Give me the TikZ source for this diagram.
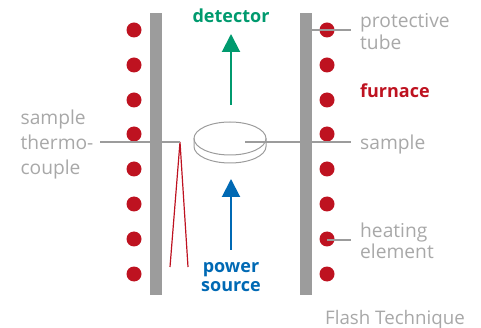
\documentclass[tikz,border=0pt]{standalone}
\usepackage{fontspec}
\setmainfont{Open Sans}
\usetikzlibrary{arrows.meta}
\definecolor{tubegray}{HTML}{9C9C9C}
\definecolor{labelgray}{HTML}{A8A8A8}
\definecolor{furnacered}{HTML}{BE1220}
\definecolor{detgreen}{HTML}{009A6E}
\definecolor{powerblue}{HTML}{0069B4}
\tikzset{
  lbl/.style={text=labelgray,font=\fontsize{19.2}{21.5}\selectfont,align=left,inner sep=0pt},
  boldlbl/.style={font=\fontsize{18}{19.5}\selectfont\bfseries,align=center,inner sep=0pt},
  pointer/.style={draw=tubegray,line width=2pt},
  dot/.style={circle,fill=furnacered,minimum size=15pt,inner sep=0pt},
  flow/.style={line width=2pt,-{Triangle[length=18pt,width=18pt]}}
}
\begin{document}
\begin{tikzpicture}[x=1pt,y=-1pt]
  \useasboundingbox (0,0) rectangle (481,328);

  % tube walls
  \fill [tubegray] (150,13) rectangle (162,295);
  \fill [tubegray] (300,13) rectangle (312,295);

  % heating coil
  \foreach \i/\y in {1/30,2/65,3/100,4/134,5/169,6/204,7/239,8/274}{
    \node [dot] (l\i) at (134,\y) {};
    \node [dot] (r\i) at (327,\y) {};
  }

  % sample disc
  \draw [tubegray,line width=1pt] (194,138.5) -- (194,146.5) arc [start angle=180,end angle=0,x radius=36,y radius=16.5] -- (266,138.5);
  \draw [tubegray,line width=1pt] (230,138.5) ellipse [x radius=36,y radius=16.5];

  % thermocouple
  \coordinate (tip) at (180,142);
  \coordinate (wireA) at (170,267);
  \coordinate (wireB) at (188,267);
  \draw [furnacered,line width=1.2pt] (wireA) -- (tip) -- (wireB);

  % labels
  \node [lbl,anchor=center,font=\fontsize{19.2}{25}\selectfont] (thermo) at (57,144.5) {sample\\thermo-\\couple};
  \node [lbl,anchor=north west] (tube) at (360,13.5) {protective\\tube};
  \node [lbl,anchor=west] (sample) at (360,144.5) {sample};
  \node [lbl,anchor=north west] (element) at (360,222.5) {heating\\element};
  \node [lbl,anchor=base west,font=\fontsize{18.7}{21}\selectfont] (caption) at (325,324) {Flash Technique};
  \node [boldlbl,text=furnacered,anchor=west] (furnace) at (360,91) {furnace};
  \node [boldlbl,text=detgreen] (detector) at (231,16) {detector};
  \node [boldlbl,text=powerblue] (source) at (231,277) {power\\source};

  % pointers
  \coordinate (thermoend) at (100,142);
  \coordinate (sampleend) at (245,142);
  \coordinate (tubestart) at (312,30);
  \coordinate (elementstart) at (327,240);
  \draw [pointer] (thermoend) -- (tip);
  \draw [pointer] (sampleend) -- (351,142);
  \draw [pointer] (tubestart) -- (351,30);
  \draw [pointer] (elementstart) -- (351,240);

  % arrows
  \coordinate (detstart) at (231,105);
  \coordinate (powstart) at (231,250);
  \draw [flow,detgreen] (detstart) -- (231,34);
  \draw [flow,powerblue] (powstart) -- (231,179);
\end{tikzpicture}
\end{document}
